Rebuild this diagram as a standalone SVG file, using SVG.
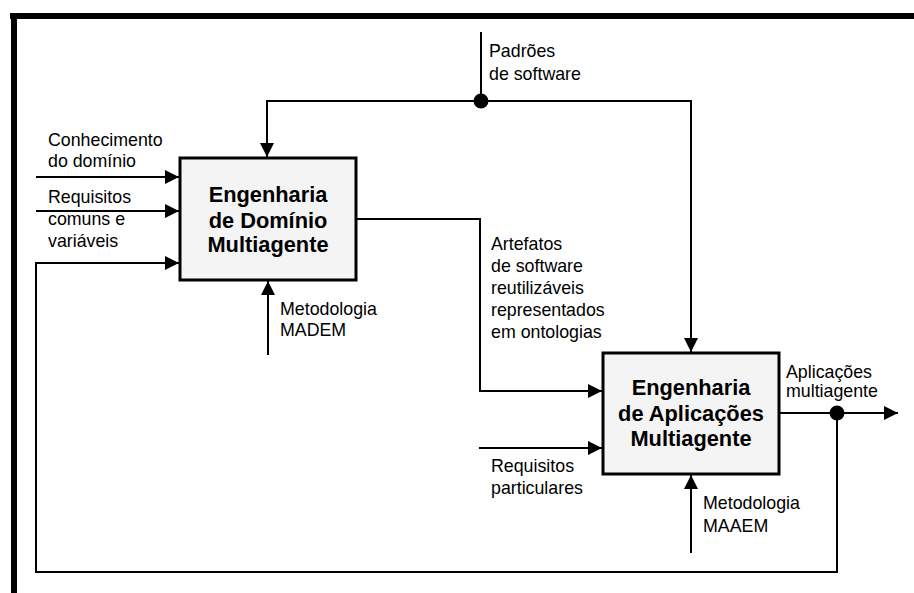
<svg xmlns="http://www.w3.org/2000/svg" width="914" height="593" viewBox="0 0 914 593">
<defs>
<marker id="arr" viewBox="0 0 14 14" refX="14" refY="7" markerWidth="14" markerHeight="14" markerUnits="userSpaceOnUse" orient="auto">
<path d="M0,0 L14,7 L0,14 z" fill="#000"/>
</marker>
</defs>
<style>
.ln{fill:none;stroke:#000;stroke-width:2}
.arr{marker-end:url(#arr)}
.box{fill:#f4f4f4;stroke:#000;stroke-width:3}
.t{font-family:"Liberation Sans",Arial,sans-serif;font-size:17.8px;fill:#000}
.bt{font-family:"Liberation Sans",Arial,sans-serif;font-size:21.8px;font-weight:bold;fill:#000;text-anchor:middle}
</style>
<rect width="914" height="593" fill="#fff"/>
<g id="frame">
<rect x="10" y="13" width="904" height="6" fill="#000"/>
<rect x="11" y="13" width="6" height="580" fill="#000"/>
</g>
<g id="connectors">
<line class="ln" x1="481" y1="32" x2="481" y2="101"/>
<polyline class="ln arr" points="690,101 267,101 267,157"/>
<polyline class="ln arr" points="481,101 691,101 691,352"/>
<circle cx="481" cy="101" r="7.5" fill="#000"/>
<line class="ln arr" x1="36" y1="177" x2="179" y2="177"/>
<line class="ln arr" x1="36" y1="211" x2="179" y2="211"/>
<polyline class="ln arr" points="837,413 837,572 36,572 36,263 179,263"/>
<line class="ln arr" x1="268" y1="355" x2="268" y2="281"/>
<polyline class="ln arr" points="356,219 480,219 480,391 602,391"/>
<line class="ln arr" x1="479" y1="448" x2="602" y2="448"/>
<line class="ln arr" x1="691" y1="553" x2="691" y2="475"/>
<line class="ln arr" x1="779" y1="413" x2="898" y2="413"/>
<circle cx="837" cy="413" r="7.5" fill="#000"/>
</g>
<g id="labels">
<text class="t" x="489" y="57">Padrões</text>
<text class="t" x="489" y="80">de software</text>
<text class="t" x="48" y="146">Conhecimento</text>
<text class="t" x="48" y="167">do domínio</text>
<text class="t" x="48" y="203">Requisitos</text>
<text class="t" x="48" y="225">comuns e</text>
<text class="t" x="48" y="247">variáveis</text>
<text class="t" x="280" y="315">Metodologia</text>
<text class="t" x="280" y="336">MADEM</text>
<text class="t" x="491" y="250">Artefatos</text>
<text class="t" x="491" y="272">de software</text>
<text class="t" x="491" y="294">reutilizáveis</text>
<text class="t" x="491" y="316">representados</text>
<text class="t" x="491" y="338">em ontologias</text>
<text class="t" x="786" y="378">Aplicações</text>
<text class="t" x="786" y="397">multiagente</text>
<text class="t" x="491" y="472">Requisitos</text>
<text class="t" x="491" y="494">particulares</text>
<text class="t" x="703" y="509">Metodologia</text>
<text class="t" x="703" y="532">MAAEM</text>
</g>
<g id="node-dominio">
<rect class="box" x="180" y="158" width="176" height="122"/>
<text class="bt" x="268" y="202">Engenharia</text>
<text class="bt" x="268" y="228">de Domínio</text>
<text class="bt" x="268" y="252">Multiagente</text>
</g>
<g id="node-aplicacoes">
<rect class="box" x="603" y="353" width="176" height="121"/>
<text class="bt" x="691" y="395">Engenharia</text>
<text class="bt" x="691" y="421">de Aplicações</text>
<text class="bt" x="691" y="446">Multiagente</text>
</g>
</svg>
